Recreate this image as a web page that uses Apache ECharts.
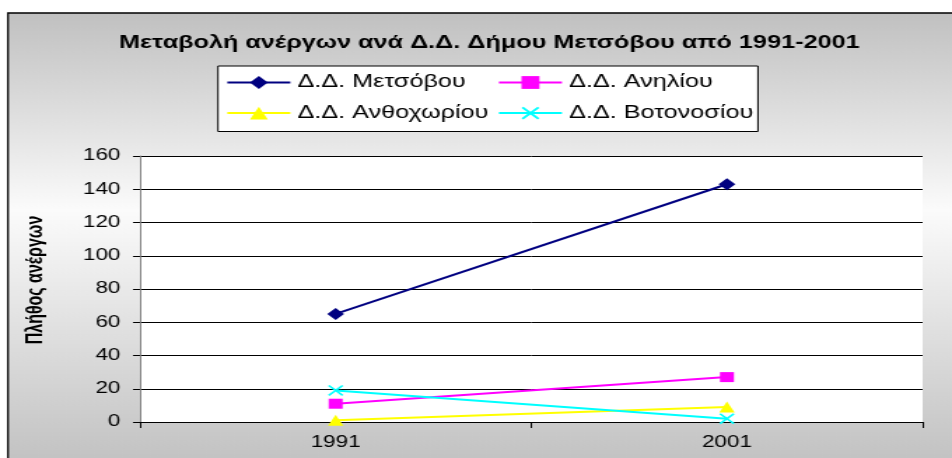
<!DOCTYPE html>
<html>
<head>
<meta charset="utf-8">
<script src="https://cdn.jsdelivr.net/npm/echarts@6/dist/echarts.min.js"></script>
<style>
  html, body { margin: 0; padding: 0; background: #fff; overflow: hidden; }
  /* the source picture is stretched sideways, so draw narrow and stretch the same way */
  #main { width: 680px; height: 458px; transform: scaleX(1.4); transform-origin: 0 0; }
</style>
</head>
<body>
<div id="main"></div>
<script>
// data
var years = ['1991', '2001'];
var metsovou = [65, 143];
var anilio = [11, 27];
var anthochori = [1, 9];
var votonosi = [19, 2];
var yTicks = [0, 20, 40, 60, 80, 100, 120, 140, 160];

var names = ['Δ.Δ. Μετσόβου', 'Δ.Δ. Ανηλίου', 'Δ.Δ. Ανθοχωρίου', 'Δ.Δ. Βοτονοσίου'];
var crossPath = 'path://M0,1L1,0L5,4L9,0L10,1L6,5L10,9L9,10L5,6L1,10L0,9L4,5Z';
var font = 'Liberation Sans, Arial, sans-serif';

var myChart = echarts.init(document.getElementById('main'));

function lineSeries(name, data, color, symbol, size) {
    return {
        name: name,
        type: 'line',
        data: data,
        symbol: symbol,
        symbolSize: size,
        showSymbol: true,
        lineStyle: { color: color, width: 2 },
        itemStyle: { color: color, borderWidth: 0 },
        emphasis: { disabled: true },
        animation: false
    };
}

var legendText = { fontFamily: font, fontSize: 18, color: '#000' };

myChart.setOption({
    backgroundColor: '#fff',
    animation: false,
    title: {
        text: 'Μεταβολή ανέργων ανά Δ.Δ. Δήμου Μετσόβου από 1991-2001',
        left: 344.5,
        textAlign: 'center',
        top: 29,
        textStyle: { fontFamily: font, fontSize: 18, fontWeight: 'bold', color: '#000' }
    },
    graphic: [
        {
            type: 'rect',
            z: -10,
            shape: { x: 5.7, y: 13, width: 720, height: 470 },
            style: {
                fill: new echarts.graphic.LinearGradient(0, 0, 0, 1, [
                    { offset: 0, color: '#c0c0c0' },
                    { offset: 0.42, color: '#fbfbfb' },
                    { offset: 1, color: '#bdbdbd' }
                ]),
                stroke: '#000',
                lineWidth: 1.3
            }
        },
        {
            type: 'rect',
            z: 1,
            shape: { x: 155.7, y: 66, width: 385.7, height: 65.5 },
            style: { fill: '#fff', stroke: '#000', lineWidth: 1 }
        }
    ],
    legend: [
        {
            data: [names[0], names[2]],
            orient: 'vertical',
            left: 161.4, top: 73.5, padding: 0,
            itemWidth: 45, itemHeight: 16, itemGap: 12.6,
            textStyle: legendText,
            selectedMode: false
        },
        {
            data: [names[1], names[3]],
            orient: 'vertical',
            left: 355.4, top: 73.5, padding: 0,
            itemWidth: 45, itemHeight: 16, itemGap: 12.6,
            textStyle: legendText,
            selectedMode: false
        }
    ],
    grid: {
        left: 100, right: 21, top: 156, bottom: 36,
        show: true, backgroundColor: '#fff', borderWidth: 0
    },
    xAxis: {
        type: 'category',
        data: years,
        boundaryGap: true,
        axisLine: { lineStyle: { color: '#000', width: 1 } },
        axisTick: { show: true, length: 6, lineStyle: { color: '#000' } },
        axisLabel: { fontFamily: font, fontSize: 16, color: '#000', margin: 13 },
        splitLine: { show: false }
    },
    yAxis: {
        type: 'value',
        min: yTicks[0],
        max: yTicks[yTicks.length - 1],
        interval: yTicks[1] - yTicks[0],
        name: 'Πλήθος ανέργων',
        nameLocation: 'middle',
        nameGap: 66,
        nameTextStyle: { fontFamily: font, fontSize: 16, fontWeight: 'bold', color: '#000', padding: [0, 0, 0, 18] },
        axisLine: { show: true, lineStyle: { color: '#808080', width: 1 } },
        axisTick: { show: true, length: 5, lineStyle: { color: '#000' } },
        axisLabel: { fontFamily: font, fontSize: 16, color: '#000', margin: 14 },
        splitLine: { show: true, lineStyle: { color: '#000', width: 1 } }
    },
    series: [
        lineSeries(names[0], metsovou, '#000080', 'diamond', 12),
        lineSeries(names[1], anilio, '#ff00ff', 'rect', 10),
        lineSeries(names[2], anthochori, '#ffff00', 'triangle', 11),
        lineSeries(names[3], votonosi, '#00ffff', crossPath, 11)
    ]
});
</script>
</body>
</html>
